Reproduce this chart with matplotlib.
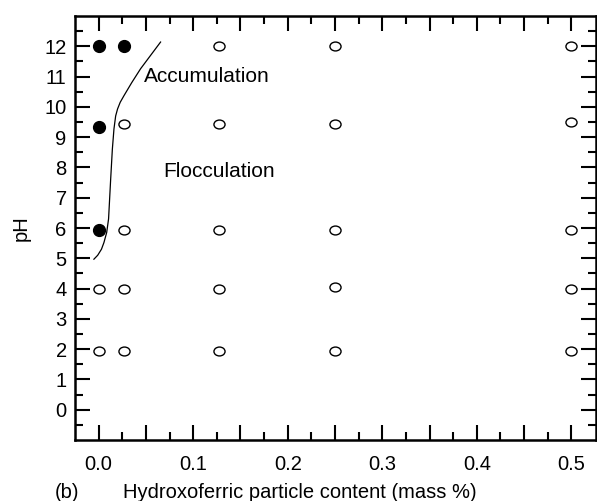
import matplotlib
matplotlib.use("Agg")
import matplotlib.pyplot as plt
import numpy as np
from matplotlib.path import Path
from matplotlib.ticker import FixedLocator, FuncFormatter

plt.rcParams['font.family'] = ['Liberation Sans', 'DejaVu Sans']

# Datos
x_llenos = [0.0, 0.027, 0.0, 0.0]
ph_llenos = [12.0, 12.0, 9.35, 5.95]

x_abiertos = [0.0, 0.0,
              0.027, 0.027, 0.027, 0.027,
              0.127, 0.127, 0.127, 0.127, 0.127,
              0.25, 0.25, 0.25, 0.25, 0.25,
              0.5, 0.5, 0.5, 0.5, 0.5]
ph_abiertos = [4.0, 1.95,
               9.45, 5.95, 4.0, 1.95,
               12.0, 9.45, 5.95, 4.0, 1.95,
               12.0, 9.45, 5.95, 4.05, 1.95,
               12.0, 9.5, 5.95, 3.98, 1.95]

# Frontera entre acumulación y floculación
x_curva = [-0.005, -0.001, 0.003, 0.0056, 0.0085, 0.0105, 0.0127, 0.0145, 0.0162,
           0.018, 0.020, 0.0228, 0.0268, 0.035, 0.0444, 0.0655]
ph_curva = [4.97, 5.1, 5.3, 5.52, 5.85, 6.3, 7.6, 8.6, 9.27,
            9.7, 9.93, 10.15, 10.37, 10.8, 11.26, 12.14]

etiquetas_x = [0.0, 0.1, 0.2, 0.3, 0.4, 0.5]

# Marcador elíptico para los puntos abiertos
circulo = Path.unit_circle()
elipse = Path(circulo.vertices * np.array([1.0, 0.8]), circulo.codes)

fig = plt.figure(figsize=(5.97, 5.01), dpi=100)
ax = fig.add_axes([75 / 597, 1 - 440 / 501, 521 / 597, 424 / 501])

ax.plot(x_curva, ph_curva, color="black", lw=0.9)

ax.plot(x_abiertos, ph_abiertos, linestyle="none", marker=elipse, markersize=8,
        markerfacecolor="white", markeredgecolor="black", markeredgewidth=1.0)
ax.plot(x_llenos, ph_llenos, linestyle="none", marker="o", markersize=8.5,
        color="black")

ax.text(0.0476, 11.0, "Accumulation", fontsize=15, va="center", ha="left")
ax.text(0.068, 7.88, "Flocculation", fontsize=15, va="center", ha="left")

ax.set_xlim(-0.025, 0.526)
ax.set_ylim(-1, 13)

ax.xaxis.set_major_locator(FixedLocator(np.arange(0, 0.51, 0.05)))
ax.xaxis.set_minor_locator(FixedLocator(np.arange(0.025, 0.51, 0.05)))
ax.xaxis.set_major_formatter(FuncFormatter(
    lambda v, pos: f"{v:.1f}" if any(abs(v - e) < 1e-6 for e in etiquetas_x) else ""))
ax.yaxis.set_major_locator(FixedLocator(np.arange(0, 13, 1)))
ax.yaxis.set_minor_locator(FixedLocator(np.arange(-0.5, 13, 1)))

ax.tick_params(which="both", direction="in", top=True, right=True, width=1.5,
               labelsize=14.5, pad=6)
ax.tick_params(which="major", length=10.5)
ax.tick_params(which="minor", length=5.5)
ax.tick_params(axis="x", pad=11)
for s in ax.spines.values():
    s.set_linewidth(1.8)

ax.set_ylabel("pH", fontsize=14.5, labelpad=10)
fig.text(67 / 597, 1 - 492 / 501, "(b)", fontsize=14.5, ha="center", va="center")
fig.text(123 / 597, 1 - 492 / 501, "Hydroxoferric particle content (mass %)",
         fontsize=14.5, ha="left", va="center")

fig.savefig("out.png", dpi=100)
